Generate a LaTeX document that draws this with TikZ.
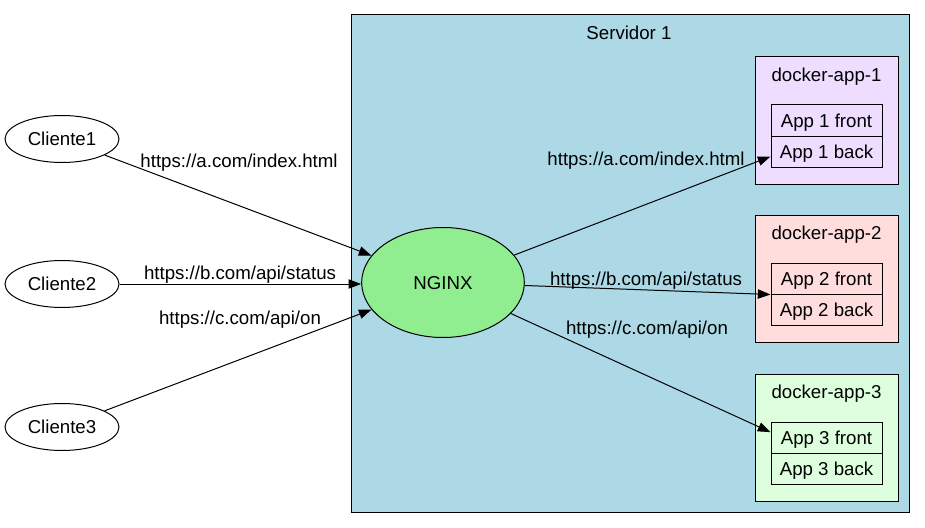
\documentclass[tikz,border=0pt]{standalone}
\usepackage{fontspec}
\setmainfont{Liberation Sans}
\usetikzlibrary{arrows.meta,shapes.geometric}
\definecolor{srvblue}{HTML}{ADD8E6}
\definecolor{nggreen}{HTML}{90EE90}
\definecolor{dockA}{HTML}{EEDDFF}
\definecolor{dockB}{HTML}{FFDDDD}
\definecolor{dockC}{HTML}{DDFFDD}
\begin{document}
\begin{tikzpicture}[x=0.75pt,y=-0.75pt,
  font=\fontsize{14}{17}\selectfont,
  every node/.style={text height=10.2pt, text depth=0pt},
  client/.style={ellipse, draw, line width=0.75pt, minimum width=85.5pt, minimum height=35.25pt, inner sep=0pt},
  proxy/.style={ellipse, draw, line width=0.75pt, fill=nggreen, minimum width=122pt, minimum height=82.5pt, inner sep=0pt},
  cluster/.style={rectangle, draw, line width=0.75pt, inner sep=0pt},
  recrow/.style={rectangle, draw, line width=0.75pt, inner sep=0pt, minimum width=83.25pt, minimum height=23.25pt},
  edge/.style={draw, line width=0.75pt, -{Triangle[length=9.5pt,width=7pt]}},
  lab/.style={inner sep=0pt}]
\useasboundingbox (0,0) rectangle (925,528);
% server cluster
\node[cluster, fill=srvblue, minimum width=418.5pt, minimum height=372.75pt] (srv) at (630,263.5) {};
\node[lab] (srvlab) at (629,33) {Servidor 1};
% docker clusters
\node[cluster, fill=dockA, minimum width=107.25pt, minimum height=95.25pt] (d1) at (826.5,120.5) {};
\node[lab] (d1lab) at (826.5,75) {docker-app-1};
\node[cluster, fill=dockB, minimum width=107.25pt, minimum height=95.25pt] (d2) at (826.5,278.5) {};
\node[lab] (d2lab) at (826.5,233) {docker-app-2};
\node[cluster, fill=dockC, minimum width=107.25pt, minimum height=95.25pt] (d3) at (826.5,437.5) {};
\node[lab] (d3lab) at (826.5,392) {docker-app-3};
% records
\node[recrow] (a1f) at (826.5,120.5) {App 1 front};
\node[recrow] (a1b) at (826.5,151.5) {App 1 back};
\node[recrow] (a2f) at (826.5,278.5) {App 2 front};
\node[recrow] (a2b) at (826.5,309.5) {App 2 back};
\node[recrow] (a3f) at (826.5,437.5) {App 3 front};
\node[recrow] (a3b) at (826.5,468.5) {App 3 back};
% nginx
\node[proxy] (ng) at (443,282.5) {NGINX};
% clients
\node[client] (c1) at (62,139) {Cliente1};
\node[client] (c2) at (62,284) {Cliente2};
\node[client] (c3) at (62,427) {Cliente3};
% edges
\draw[edge] (c1) -- (ng);
\draw[edge] (c2) -- (ng.west |- c2);
\draw[edge] (c3) -- (ng);
\draw[edge] (ng) -- ([yshift=-3.75pt]a1b.west);
\draw[edge] (ng) -- (a2f.south west);
\draw[edge] (ng) -- ([yshift=4pt]a3f.west);
% edge labels
\node[lab] (l1) at (239,161) {https://a.com/index.html};
\node[lab] (l2) at (240,273) {https://b.com/api/status};
\node[lab] (l3) at (240,318) {https://c.com/api/on};
\node[lab] (l4) at (646,159) {https://a.com/index.html};
\node[lab] (l5) at (646,279) {https://b.com/api/status};
\node[lab] (l6) at (647,328) {https://c.com/api/on};
\end{tikzpicture}
\end{document}
